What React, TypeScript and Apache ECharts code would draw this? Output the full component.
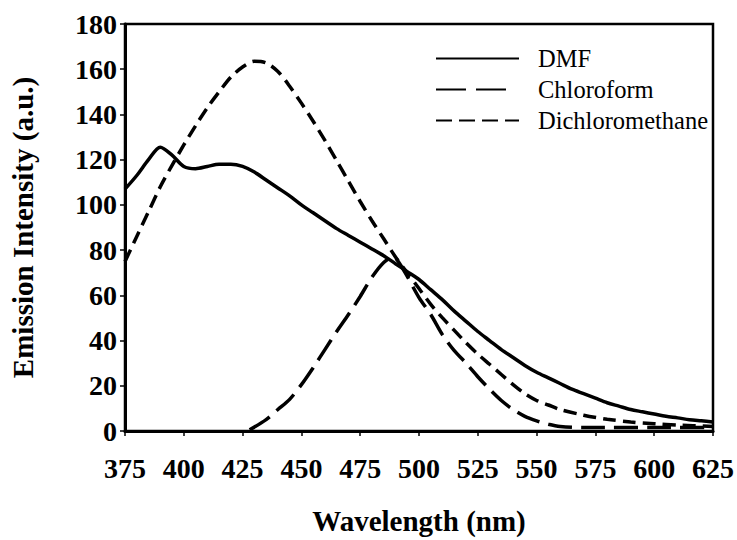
import React, { useEffect, useRef } from "react";
import * as echarts from "echarts";

const xTicks = { min: 375, max: 625, interval: 25 };
const yTicks = { min: 0, max: 180, interval: 20 };

const dmfX = [375, 380, 385, 390, 395, 400, 405, 410, 415, 420, 425, 430, 435, 440, 445, 450, 455, 460, 465, 470, 475, 480, 485, 490, 495, 500, 505, 510, 515, 520, 525, 530, 535, 540, 545, 550, 555, 560, 565, 570, 575, 580, 585, 590, 595, 600, 605, 610, 615, 620, 625];
const dmfY = [107, 113, 120, 125.5, 122, 117, 116, 117, 118, 118, 117, 114.5, 111, 107.5, 104, 100, 96.5, 93, 89.5, 86.5, 83.5, 80.5, 77.5, 74, 70.5, 67, 62.5, 58, 53, 48.5, 44, 40, 36, 32.5, 29, 26, 23.5, 21, 18.5, 16.5, 14.5, 12.5, 11, 9.5, 8.5, 7.5, 6.5, 5.8, 5, 4.5, 4];

const chlX = [428, 435, 440, 445, 450, 455, 460, 465, 470, 475, 480, 485, 489, 493, 500, 505, 510, 515, 520, 525, 530, 535, 540, 545, 550, 555, 560, 570, 600, 625];
const chlY = [0.5, 5, 9.5, 14, 20.5, 28, 36, 44, 51.5, 59.5, 68, 74.5, 77, 72, 59, 51.5, 42.5, 35.5, 30, 24, 18.5, 13.5, 9.5, 6.5, 4.5, 3, 2, 1.5, 1.5, 1.5];

const dcmX = [375, 380, 385, 390, 395, 400, 405, 410, 415, 420, 425, 430, 435, 440, 445, 450, 455, 460, 465, 470, 475, 480, 485, 490, 495, 500, 505, 510, 515, 520, 525, 530, 535, 540, 545, 550, 555, 560, 570, 580, 590, 600, 610, 625];
const dcmY = [75, 86, 97, 108, 117.5, 126.5, 135, 143, 150, 156.5, 161, 163.5, 162.8, 159, 152.5, 145, 137, 128.5, 119.5, 110.5, 101.5, 93, 85, 77, 70, 63, 56, 50, 44.5, 39, 34, 29.5, 25, 20.5, 16.5, 13.5, 11.5, 9.5, 7, 5.2, 4, 3.2, 2.6, 2];

const seriesNames = ["DMF", "Chloroform", "Dichloromethane"];

const zip = (xs: number[], ys: number[]) => xs.map((x, i) => [x, ys[i]]);

export default function App() {
  const ref = useRef<HTMLDivElement>(null);
  useEffect(() => {
    if (!ref.current) return;
    const chart = echarts.init(ref.current, null, { renderer: "svg" });
    const serif = "Times New Roman, Liberation Serif, Tinos, DejaVu Serif, serif";
    const lineBase = { color: "#000", width: 3.5 };
    chart.setOption({
      animation: false,
      backgroundColor: "#fff",
      grid: {
        left: 123,
        right: 24,
        top: 24,
        bottom: 102,
        show: true,
        borderColor: "#000",
        borderWidth: 2.5,
        backgroundColor: "transparent",
      },
      legend: {
        orient: "vertical",
        left: 435,
        top: 46,
        padding: 0,
        itemGap: 6,
        itemWidth: 83,
        itemHeight: 14,
        data: [
          { name: seriesNames[0] },
          { name: seriesNames[1], lineStyle: { type: [30, 10, 30, 13] } },
          { name: seriesNames[2], lineStyle: { type: [16, 7] } },
        ],
        itemStyle: { opacity: 0 },
        textStyle: {
          fontFamily: serif,
          fontSize: 24.5,
          color: "#000",
          lineHeight: 25,
          padding: [0, 0, 0, 14],
        },
      },
      xAxis: {
        type: "value",
        min: xTicks.min,
        max: xTicks.max,
        interval: xTicks.interval,
        name: "Wavelength (nm)",
        nameLocation: "middle",
        nameGap: 75,
        nameTextStyle: { fontFamily: serif, fontSize: 29, fontWeight: "bold", color: "#000" },
        axisLine: { lineStyle: { color: "#000", width: 3 } },
        axisTick: { show: true, length: 5, lineStyle: { color: "#000", width: 1.5 } },
        axisLabel: { fontFamily: serif, fontSize: 28, fontWeight: "bold", color: "#000", margin: 23 },
        splitLine: { show: false },
      },
      yAxis: {
        type: "value",
        min: yTicks.min,
        max: yTicks.max,
        interval: yTicks.interval,
        name: "Emission Intensity (a.u.)",
        nameLocation: "middle",
        nameRotate: 90,
        nameGap: 88,
        nameTextStyle: { fontFamily: serif, fontSize: 29, fontWeight: "bold", color: "#000" },
        axisLine: { show: true, lineStyle: { color: "#000", width: 3 } },
        axisTick: { show: true, length: 5, lineStyle: { color: "#000", width: 1.5 } },
        axisLabel: { fontFamily: serif, fontSize: 28, fontWeight: "bold", color: "#000", margin: 8 },
        splitLine: { show: false },
      },
      series: [
        {
          name: seriesNames[0],
          type: "line",
          data: zip(dmfX, dmfY),
          smooth: 0.3,
          showSymbol: false,
          symbol: "none",
          lineStyle: { ...lineBase, type: "solid" },
          itemStyle: { color: "#000" },
        },
        {
          name: seriesNames[1],
          type: "line",
          data: zip(chlX, chlY),
          smooth: 0.3,
          showSymbol: false,
          symbol: "none",
          lineStyle: { ...lineBase, type: [24, 9] },
          itemStyle: { color: "#000" },
        },
        {
          name: seriesNames[2],
          type: "line",
          data: zip(dcmX, dcmY),
          smooth: 0.3,
          showSymbol: false,
          symbol: "none",
          lineStyle: { ...lineBase, type: [13, 7] },
          itemStyle: { color: "#000" },
        },
      ],
    });
    return () => chart.dispose();
  }, []);
  return (
    <div
      ref={ref}
      style={{ position: "fixed", left: 0, top: 0, width: 737, height: 540, background: "#fff" }}
    />
  );
}
